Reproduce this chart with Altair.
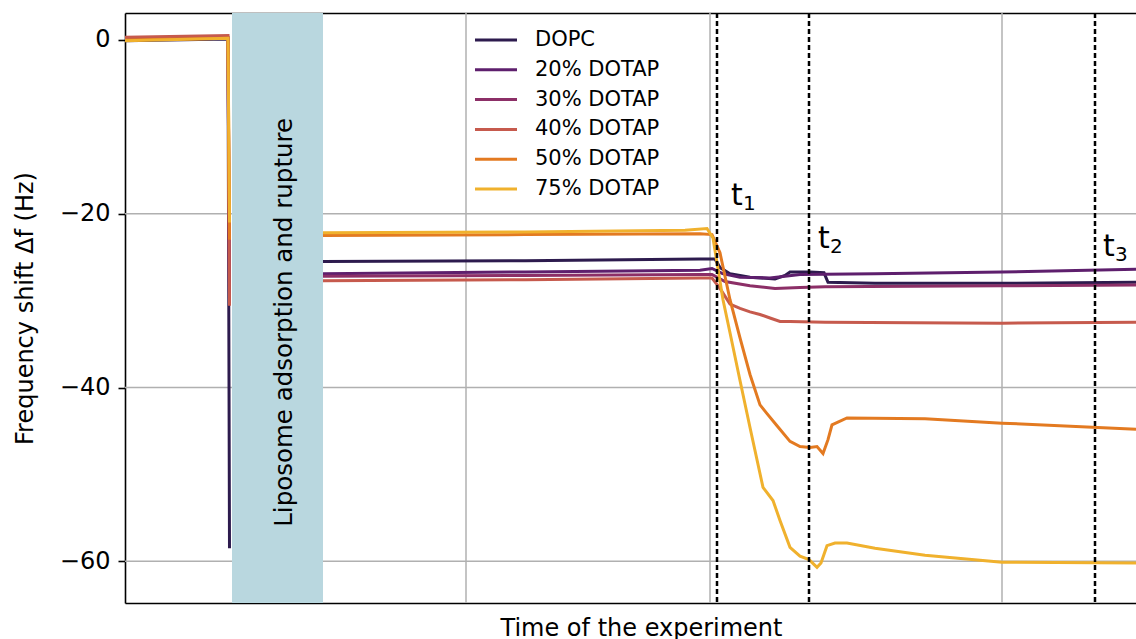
import altair as alt
import pandas as pd

# ---------------- data ----------------
series = ["DOPC", "20% DOTAP", "30% DOTAP", "40% DOTAP", "50% DOTAP", "75% DOTAP"]
colors = ["#2d1b4e", "#5e1f6d", "#8c2f67", "#c65a4d", "#e37a21", "#f0b12d"]

# before liposome injection (time in a.u., frequency shift in Hz)
pre_t = [0.0, 20.6, 20.9]
pre_f = {
    "DOPC":      [-0.1, 0.1, -58.5],
    "20% DOTAP": [0.0, 0.2, -29.8],
    "30% DOTAP": [0.1, 0.3, -30.3],
    "40% DOTAP": [0.3, 0.5, -30.6],
    "50% DOTAP": [0.0, 0.2, -23.0],
    "75% DOTAP": [-0.1, 0.2, -21.0],
}

# after adsorption and rupture
post_t = {
    "DOPC":      [39.6, 80, 115, 118.0, 119.0, 121, 125, 130, 132, 133, 137, 139.8, 140.6, 150, 175.4, 202.2],
    "20% DOTAP": [39.6, 80, 115, 117.4, 119.5, 123, 129, 135, 150, 175.4, 202.2],
    "30% DOTAP": [39.6, 80, 115, 117.4, 120, 125, 130, 135, 140, 175.4, 202.2],
    "40% DOTAP": [39.6, 80, 115, 117.4, 119, 121, 123, 125, 127, 129, 131, 133, 140, 175.4, 202.2],
    "50% DOTAP": [39.6, 80, 115, 117.4, 119, 121, 123, 125, 127, 128.4, 130.4, 133, 135, 137, 138.4,
                  139.6, 140.6, 141.4, 144.4, 160, 175.4, 202.2],
    "75% DOTAP": [39.6, 80, 112, 116.4, 117.6, 119.6, 121, 123, 125, 127.6, 129.6, 131, 133, 135,
                  136.8, 138.4, 139.2, 140.4, 142, 144.4, 150, 160, 175.4, 202.2],
}
post_f = {
    "DOPC":      [-25.5, -25.4, -25.2, -25.2, -26.2, -26.9, -27.3, -27.5, -27.1, -26.7, -26.7, -26.8,
                  -27.9, -28.0, -28.0, -27.9],
    "20% DOTAP": [-26.9, -26.7, -26.5, -26.3, -26.9, -27.3, -27.4, -27.0, -26.9, -26.7, -26.4],
    "30% DOTAP": [-27.2, -27.1, -27.0, -27.0, -27.8, -28.3, -28.6, -28.5, -28.4, -28.3, -28.2],
    "40% DOTAP": [-27.7, -27.6, -27.4, -27.4, -28.6, -30.4, -30.9, -31.3, -31.6, -32.0, -32.4, -32.4,
                  -32.5, -32.6, -32.5],
    "50% DOTAP": [-22.5, -22.4, -22.3, -22.4, -24.5, -29.9, -34.3, -38.5, -42.0, -43.0, -44.4, -46.2,
                  -46.8, -46.9, -46.8, -47.6, -46.0, -44.3, -43.5, -43.6, -44.1, -44.8],
    "75% DOTAP": [-22.2, -22.1, -21.9, -21.7, -22.8, -29.9, -33.7, -39.2, -44.6, -51.5, -53.0, -55.3,
                  -58.4, -59.4, -59.8, -60.7, -60.2, -58.2, -57.9, -57.9, -58.5, -59.3, -60.1, -60.2],
}

band_start = [21.4]
band_end = [39.6]
band_label = ["Liposome adsorption and rupture"]
band_label_f = [-32.5]

marker_t = [118.4, 136.8, 194.0]
marker_sub = ["1", "2", "3"]
marker_label_t = [121.2, 138.6, 195.6]
marker_label_f = [-19.0, -23.95, -24.9]

grid_t = [68.2, 117.0, 175.4]
grid_f = [-20, -40, -60]
y_ticks = [0, -20, -40, -60]

# ---------------- tables ----------------
rows = []
for s in series:
    for t, f in zip(pre_t, pre_f[s]):
        rows.append({"series": s, "seg": s + " a", "t": t, "f": f})
    for t, f in zip(post_t[s], post_f[s]):
        rows.append({"series": s, "seg": s + " b", "t": t, "f": f})
lines_df = pd.DataFrame(rows)
band_df = pd.DataFrame({"t": band_start, "t2": band_end,
                        "tc": [(a + b) / 2 for a, b in zip(band_start, band_end)],
                        "f": band_label_f, "label": band_label})
marker_df = pd.DataFrame({"t": marker_t})
mlabel_df = pd.DataFrame({"t": marker_label_t, "f": marker_label_f, "sub": marker_sub})
gx_df = pd.DataFrame({"t": grid_t})
gy_df = pd.DataFrame({"f": grid_f})

FONT = "DejaVu Sans"
xs = alt.Scale(domain=[0, 202.2], nice=False, zero=False)
ys = alt.Scale(domain=[-64.8, 3.1], nice=False, zero=False)

grid_v = alt.Chart(gx_df).mark_rule(color="#b0b0b0", strokeWidth=1.5).encode(
    x=alt.X("t:Q", scale=xs, axis=None))
grid_h = alt.Chart(gy_df).mark_rule(color="#b0b0b0", strokeWidth=1.5).encode(
    y=alt.Y("f:Q", scale=ys, axis=None))

band = alt.Chart(band_df).mark_rect(color="#b9d7df").encode(
    x=alt.X("t:Q", scale=xs, axis=None), x2="t2:Q")

lines = alt.Chart(lines_df).mark_line(strokeWidth=3, clip=True).encode(
    x=alt.X("t:Q", scale=xs, axis=alt.Axis(
        orient="bottom", labels=False, ticks=False, grid=False,
        domainColor="black", domainWidth=1.6,
        title="Time of the experiment", titleFont=FONT, titleFontSize=24,
        titleFontWeight="normal", titleColor="black",
        titleX=516, titleY=32, titleAlign="center", titleBaseline="alphabetic")),
    y=alt.Y("f:Q", scale=ys, axis=alt.Axis(
        orient="left", values=y_ticks, grid=False,
        labelExpr="datum.value < 0 ? '\u2212' + abs(datum.value) : datum.label",
        labelFont=FONT, labelFontSize=24, labelColor="black", labelPadding=8,
        tickColor="black", tickSize=7, tickWidth=1.6,
        domainColor="black", domainWidth=1.6,
        title="Frequency shift \u0394f (Hz)", titleFont=FONT, titleFontSize=24,
        titleFontWeight="normal", titleColor="black",
        titleX=-100, titleY=295, titleAngle=270, titleAlign="center",
        titleBaseline="middle")),
    color=alt.Color("series:N", scale=alt.Scale(domain=series, range=colors),
                    sort=series,
                    legend=alt.Legend(
                        title=None, orient="none", legendX=359, legendY=15,
                        symbolType="M-2,0H2", symbolSize=441, symbolStrokeWidth=3,
                        labelFont=FONT, labelFontSize=21, labelColor="black",
                        labelOffset=27, rowPadding=7.8, padding=0)),
    detail="seg:N",
)

vrules = alt.Chart(marker_df).mark_rule(color="black", strokeWidth=2.5, strokeDash=[5, 3]).encode(
    x=alt.X("t:Q", scale=xs, axis=alt.Axis(
        orient="top", labels=False, ticks=False, grid=False, title="",
        domainColor="black", domainWidth=1.6)))

band_text = alt.Chart(band_df).mark_text(
    angle=270, font=FONT, fontSize=24.5, color="black", align="center",
    baseline="middle", dy=7).encode(
    x=alt.X("tc:Q", scale=xs, axis=None), y=alt.Y("f:Q", scale=ys, axis=None),
    text="label:N")

t_text = alt.Chart(mlabel_df).mark_text(
    font=FONT, fontSize=30, color="black", align="left", baseline="alphabetic").encode(
    x=alt.X("t:Q", scale=xs, axis=None), y=alt.Y("f:Q", scale=ys, axis=None),
    text=alt.value("t"))
sub_text = alt.Chart(mlabel_df).mark_text(
    font=FONT, fontSize=20, color="black", align="left", baseline="alphabetic",
    dx=12, dy=5).encode(
    x=alt.X("t:Q", scale=xs, axis=None), y=alt.Y("f:Q", scale=ys, axis=None),
    text="sub:N")

chart = alt.layer(grid_v, grid_h, band, lines, vrules, band_text, t_text, sub_text).resolve_axis(
    x="independent", y="independent").properties(
    width=1011, height=590,
    autosize=alt.AutoSizeParams(type="none"),
    padding={"left": 125, "top": 13, "right": 0, "bottom": 36},
    background="white",
).configure_view(stroke="transparent")

chart.save("out.html", embed_options={"renderer": "svg", "actions": False})
